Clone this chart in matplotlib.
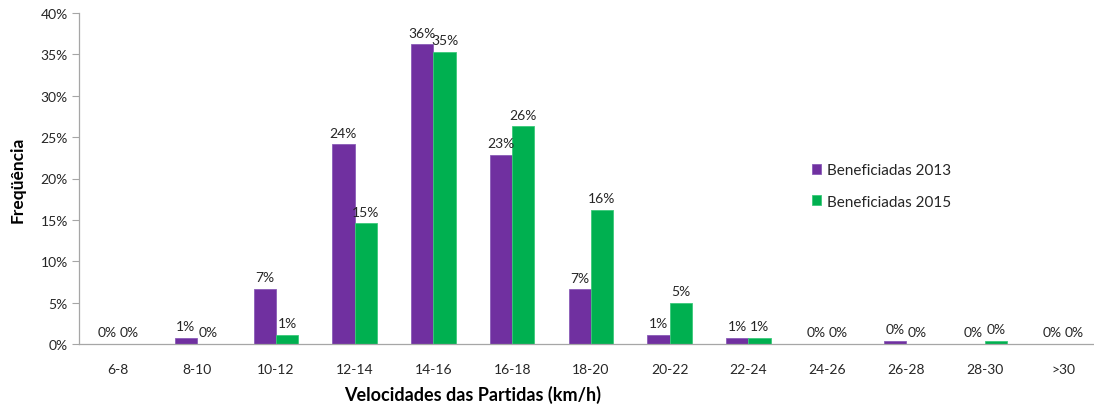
import matplotlib
matplotlib.use("Agg")
import matplotlib.pyplot as plt
import numpy as np

plt.rcParams['font.family'] = ['Lato', 'DejaVu Sans']

categories = ["6-8", "8-10", "10-12", "12-14", "14-16", "16-18", "18-20",
              "20-22", "22-24", "24-26", "26-28", "28-30", ">30"]
benef_2013 = [0.0, 0.72, 6.64, 24.15, 36.2, 22.9, 6.6, 1.1, 0.76, 0.0, 0.36, 0.0, 0.0]
benef_2015 = [0.0, 0.0, 1.12, 14.6, 35.3, 26.3, 16.2, 4.95, 0.76, 0.0, 0.0, 0.36, 0.0]
series_names = ["Beneficiadas 2013", "Beneficiadas 2015"]
yticks = [0, 5, 10, 15, 20, 25, 30, 35, 40]

W, H = 1094, 410
fig = plt.figure(figsize=(W / 100, H / 100), dpi=100)
# plot area in pixels: left 79, top 14, bottom 345, category spacing ~78.75 px
left_px, top_px, bot_px = 79, 14, 345
width_px = 13 * 78.75
ax = fig.add_axes([left_px / W, 1 - bot_px / H, width_px / W, (bot_px - top_px) / H])

x = np.arange(len(categories))
bw = 0.283
purple = "#7030A0"
green = "#00B050"
b1 = ax.bar(x - bw / 2, benef_2013, bw, color=purple, edgecolor="#8A5CB8",
            linewidth=0.6, label=series_names[0])
b2 = ax.bar(x + bw / 2, benef_2015, bw, color=green, edgecolor="#3CC97A",
            linewidth=0.6, label=series_names[1])

for bars, vals in ((b1, benef_2013), (b2, benef_2015)):
    for rect, v in zip(bars, vals):
        ax.annotate(f"{int(round(v))}%",
                    (rect.get_x() + rect.get_width() / 2, rect.get_height()),
                    xytext=(0, 4), textcoords="offset points",
                    ha="center", va="bottom", fontsize=10, color="#262626")

ax.set_xlim(-0.5, len(categories) - 0.5)
ax.set_ylim(0, 40)
ax.set_yticks(yticks)
ax.set_yticklabels([f"{t}%" for t in yticks], fontsize=10, color="#262626")
ax.set_xticks(x)
ax.set_xticklabels(categories, fontsize=10, color="#262626")
ax.tick_params(axis="x", length=0, pad=14)
ax.tick_params(axis="y", length=5, width=0.8, color="#A6A6A6", pad=3)

for s in ("top", "right"):
    ax.spines[s].set_visible(False)
for s in ("left", "bottom"):
    ax.spines[s].set_color("#A6A6A6")
    ax.spines[s].set_linewidth(0.9)

fig.text(18 / W, 1 - 180 / H, "Freqüência", rotation=90, ha="center", va="center",
         fontsize=12.5, fontweight="bold", color="#000000")
fig.text(473 / W, 1 - 395 / H, "Velocidades das Partidas (km/h)", ha="center",
         va="center", fontsize=13, fontweight="bold", color="#000000")

leg = ax.legend(loc="upper left",
                bbox_to_anchor=((806 - left_px) / width_px, 1 - (158 - top_px) / (bot_px - top_px)),
                frameon=False, fontsize=11, handlelength=0.6, handleheight=0.6,
                handletextpad=0.4, labelspacing=1.15, borderaxespad=0)
for t in leg.get_texts():
    t.set_color("#262626")

fig.savefig("out.png", dpi=100)
